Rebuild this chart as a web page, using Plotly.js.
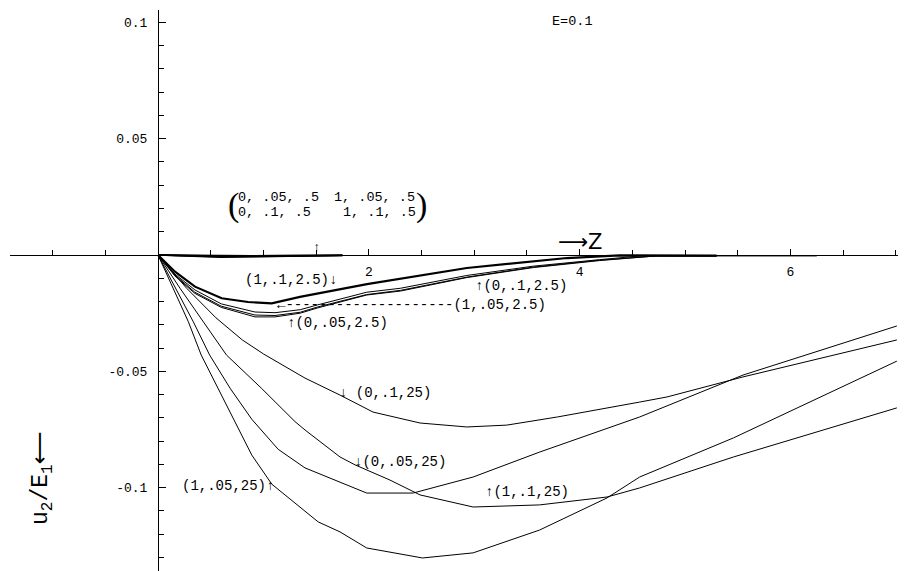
<!DOCTYPE html>
<html>
<head>
<meta charset="utf-8">
<script src="https://cdn.plot.ly/plotly-3.0.1.min.js"></script>
<style>html,body{margin:0;padding:0;background:#fff;}#chart{width:908px;height:571px;}</style>
</head>
<body>
<div id="chart"></div>
<script>
// ---- data ----
// family "25"
const xA25 = [0, 0.272, 0.55, 0.8, 1.0, 1.233, 1.395, 1.727, 2.04, 2.486, 2.93, 3.31, 3.79, 4.57, 4.83, 5.55, 7.01];
const yA25 = [0, -0.0143, -0.027, -0.0365, -0.0425, -0.0486, -0.0529, -0.0602, -0.0675, -0.0722, -0.0739, -0.0731, -0.0696, -0.0632, -0.061, -0.0524, -0.0365];

const xB25 = [0, 0.168, 0.335, 0.49, 0.683, 0.89, 1.14, 1.395, 1.727, 1.98, 2.42, 2.99, 3.62, 4.57, 5.55, 7.01];
const yB25 = [0, -0.0143, -0.0287, -0.043, -0.0572, -0.0706, -0.0835, -0.0915, -0.0975, -0.1023, -0.1023, -0.0954, -0.0847, -0.0696, -0.0516, -0.0305];

const xC25 = [0, 0.209, 0.43, 0.65, 0.98, 1.30, 1.395, 1.727, 1.87, 2.2, 2.486, 2.99, 3.62, 4.26, 4.57, 5.46, 7.01];
const yC25 = [0, -0.0143, -0.0287, -0.043, -0.0572, -0.0716, -0.0752, -0.0868, -0.0902, -0.0967, -0.1031, -0.1083, -0.1074, -0.104, -0.1001, -0.0868, -0.0657];

const xD25 = [0, 0.145, 0.288, 0.41, 0.57, 0.73, 0.89, 1.08, 1.52, 1.727, 1.98, 2.51, 2.99, 3.62, 4.26, 4.57, 5.46, 7.01];
const yD25 = [0, -0.0143, -0.0287, -0.043, -0.0572, -0.0716, -0.086, -0.0985, -0.1147, -0.119, -0.1259, -0.1302, -0.128, -0.1182, -0.1044, -0.0954, -0.0786, -0.0456];

// family "2.5"
const xE = [0, 0.161, 0.351, 0.604, 0.854, 1.079, 1.347, 1.983, 2.93, 3.88, 4.38, 5.3];
const yE = [0, -0.0072, -0.0136, -0.0186, -0.0202, -0.0208, -0.018, -0.0125, -0.0056, -0.0013, -0.0002, -0.0003];

const xF = [0, 0.16, 0.35, 0.6, 0.92, 1.11, 1.35, 1.51, 1.98, 2.3, 2.93, 3.56, 4.19, 4.6, 5.0];
const yF = [0, -0.0082, -0.015, -0.021, -0.0245, -0.0248, -0.0235, -0.0215, -0.016, -0.0143, -0.0088, -0.0048, -0.002, -0.0003, -0.0003];

const xG = [0, 0.16, 0.35, 0.6, 0.92, 1.11, 1.35, 1.51, 1.98, 2.3, 2.93, 3.56, 4.19, 4.73, 6.25];
const yG = [0, -0.0086, -0.016, -0.022, -0.0258, -0.026, -0.0246, -0.0224, -0.017, -0.0152, -0.0095, -0.0052, -0.0022, -0.0004, -0.0004];

const xH = [0, 0.16, 0.35, 0.6, 0.92, 1.11, 1.35, 1.51, 1.98, 2.3, 2.93, 3.56, 4.19, 4.73, 5.3];
const yH = [0, -0.009, -0.0165, -0.0225, -0.0266, -0.0266, -0.025, -0.0228, -0.0172, -0.0155, -0.0097, -0.0054, -0.0024, -0.0004, -0.0005];

// family ".5" (almost zero)
const xP = [0, 0.3, 0.6, 0.9, 1.3, 1.75];
const yP1 = [0, -0.0006, -0.0009, -0.0007, -0.0004, -0.0002];
const yP2 = [0, -0.0004, -0.0007, -0.0006, -0.0003, -0.0002];
const yP3 = [0, -0.0003, -0.0005, -0.0004, -0.0002, -0.0001];
const yP4 = [0, -0.0002, -0.0003, -0.0003, -0.0002, -0.0001];

// ticks
const xTickVals = [2, 4, 6];
const xTickText = ["2", "4", "6"];
const yTickVals = [0.1, 0.05, -0.05, -0.1];
const yTickText = ["0.1", "0.05", "-0.05", "-0.1"];

// ---- layout geometry ----
const W = 908, H = 571;
const L = 10, R = 10, T = 10, B = 0;
const pw = W - L - R, ph = H - T - B;
const X0PX = 158, Y0PX = 255, XSC = 105.4, YSC = 2327;
const xRange = [(L - X0PX) / XSC, (W - R - X0PX) / XSC];
const yRange = [-(H - B - Y0PX) / YSC, (Y0PX - T) / YSC];
const paperX = p => (p - L) / pw;
const paperY = p => (H - B - p) / ph;

const FONT = "Liberation Mono";

function line(x, y, name, w) {
  return {x: x, y: y, type: 'scatter', mode: 'lines', name: name,
          line: {color: 'black', width: w || 1}, hoverinfo: 'skip'};
}

const traces = [
  line(xP, yP1, "(0,.05,.5)", 1.6),
  line(xP, yP2, "(1,.05,.5)", 1.6),
  line(xP, yP3, "(0,.1,.5)", 1.6),
  line(xP, yP4, "(1,.1,.5)", 1.6),
  line(xA25, yA25, "(0,.1,25)", 1),
  line(xB25, yB25, "(1,.1,25)", 1),
  line(xC25, yC25, "(0,.05,25)", 1),
  line(xD25, yD25, "(1,.05,25)", 1),
  line(xF, yF, "(0,.1,2.5)", 1),
  line(xG, yG, "(1,.05,2.5)", 1),
  line(xH, yH, "(0,.05,2.5)", 1),
  line(xE, yE, "(1,.1,2.5)", 2.2)
];

function ann(text, px, py, size, extra) {
  return Object.assign({
    text: text, xref: 'paper', yref: 'paper', x: paperX(px), y: paperY(py),
    xanchor: 'center', yanchor: 'middle', showarrow: false,
    font: {family: FONT, size: size || 14, color: 'black'}
  }, extra || {});
}

const annotations = [
  ann("E=0.1", 572, 22, 13.5),
  ann("⟶Z", 580, 242, 21, {font: {family: "DejaVu Sans", size: 21, color: 'black'}}),
  ann("↑", 317, 248, 13),
  ann("0, .05, .5", 278, 197, 13.5),
  ann("1, .05, .5", 374, 197, 13.5),
  ann("0, .1, .5", 274, 213, 13.5),
  ann("1, .1, .5", 379, 213, 13.5),
  ann("(", 233, 205, 34, {font: {family: "Liberation Serif", size: 34, color: 'black'}}),
  ann(")", 421, 205, 34, {font: {family: "Liberation Serif", size: 34, color: 'black'}}),
  ann("(1,.1,2.5)↓", 291, 280, 14),
  ann("↑(0,.1,2.5)", 521, 286, 14),
  ann("←--------------------(1,.05,2.5)", 275, 305, 14, {xanchor: 'left'}),
  ann("↑(0,.05,2.5)", 337, 323, 14),
  ann("↓ (0,.1,25)", 385, 393, 14),
  ann("↓(0,.05,25)", 400, 462, 14),
  ann("(1,.05,25)↑", 228, 486, 14),
  ann("↑(1,.1,25)", 527, 492, 14),
  ann("u<sub>2</sub>/E<sub>1</sub>⟵", 42, 478, 23, {textangle: -90,
      font: {family: "Liberation Mono, DejaVu Sans", size: 23, color: 'black'}})
];

const layout = {
  width: W, height: H,
  margin: {l: L, r: R, t: T, b: B, pad: 0},
  paper_bgcolor: 'white', plot_bgcolor: 'white',
  showlegend: false,
  font: {family: FONT, size: 13, color: 'black'},
  xaxis: {
    range: xRange, anchor: 'free', position: paperY(Y0PX),
    showgrid: false, zeroline: false, showline: true, linecolor: 'black', linewidth: 1,
    tickmode: 'array', tickvals: xTickVals, ticktext: xTickText,
    ticks: 'inside', ticklen: 6, tickwidth: 1, tickcolor: 'black',
    ticklabelstandoff: 4,
    tickfont: {family: FONT, size: 13, color: 'black'},
    minor: {dtick: 0.5, tick0: 0, ticks: 'inside', ticklen: 5, tickwidth: 1, tickcolor: 'black', showgrid: false},
    fixedrange: true
  },
  yaxis: {
    range: yRange, anchor: 'free', position: paperX(X0PX),
    showgrid: false, zeroline: false, showline: true, linecolor: 'black', linewidth: 1,
    tickmode: 'array', tickvals: yTickVals, ticktext: yTickText,
    ticks: 'inside', ticklen: 7, tickwidth: 1, tickcolor: 'black',
    ticklabelstandoff: 8,
    tickfont: {family: FONT, size: 13, color: 'black'},
    minor: {dtick: 0.01, tick0: 0, ticks: 'inside', ticklen: 5, tickwidth: 1, tickcolor: 'black', showgrid: false},
    fixedrange: true
  },
  annotations: annotations
};

Plotly.newPlot('chart', traces, layout, {displayModeBar: false, staticPlot: true});
</script>
</body>
</html>
